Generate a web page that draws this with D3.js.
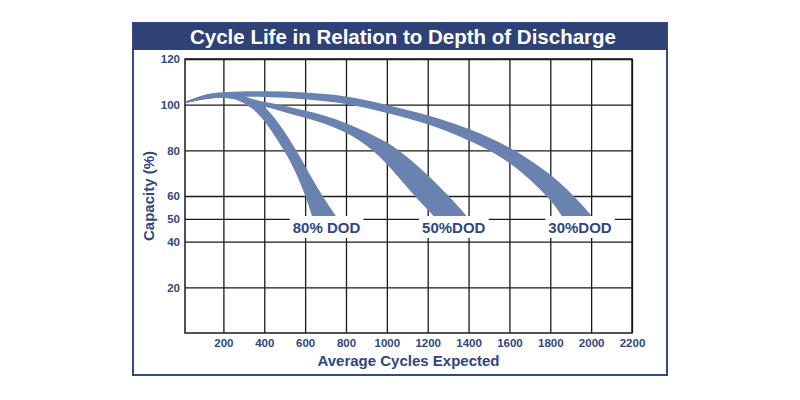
<!DOCTYPE html>
<html>
<head>
<meta charset="utf-8">
<script src="https://cdn.jsdelivr.net/npm/d3@7"></script>
<style>
  html, body { margin: 0; padding: 0; background: #ffffff; }
  svg { display: block; }
  text { font-family: Arial, "Liberation Sans", Helvetica, sans-serif; font-weight: bold; }
</style>
</head>
<body>
<svg id="chart" width="800" height="400"></svg>
<script>
// ---------------- data ----------------
const chartTitle = "Cycle Life in Relation to Depth of Discharge";
const xAxisTitle = "Average Cycles Expected";
const yAxisTitle = "Capacity (%)";
const xTickValues = [200, 400, 600, 800, 1000, 1200, 1400, 1600, 1800, 2000, 2200];
const yTickValues = [20, 40, 50, 60, 80, 100, 120];
const bandLabels = ["80% DOD", "50%DOD", "30%DOD"];

// each band: outer (upper/right) edge and inner (lower/left) edge, [cycles, capacity %]
const dod80Upper = [[12,101.2],[110,104.7],[198,105.5],[281,104.7],[355,102.0],[404,99.4],[482,90.7],[560,79.7],[624,69.2],[687,59.6],[751,51.2],[768,48.9]];
const dod80Lower = [[12,100.7],[110,102.5],[198,103.4],[281,102.0],[340,98.5],[399,93.7],[497,80.1],[555,70.5],[604,59.6],[634,51.2],[641,49.1]];
const dod50Upper = [[12,101.2],[110,104.5],[198,105.3],[281,103.8],[399,101.2],[599,97.7],[800,92.5],[1001,83.7],[1064,79.7],[1187,70.5],[1309,59.6],[1392,51.2],[1407,49.0]];
const dod50Lower = [[12,100.7],[110,102.5],[198,103.4],[281,102.2],[399,99.2],[599,94.4],[800,88.7],[942,79.7],[1040,70.1],[1138,59.6],[1231,51.2],[1248,49.0]];
const dod30Upper = [[12,101.2],[110,104.7],[198,105.7],[399,106.0],[599,105.5],[800,104.0],[1001,99.9],[1199,95.6],[1397,89.8],[1598,81.9],[1799,70.1],[1931,58.7],[2004,51.2],[2019,49.0]];
const dod30Lower = [[12,100.7],[110,102.7],[198,103.4],[399,103.6],[599,102.5],[800,100.7],[1001,96.4],[1199,91.8],[1397,84.7],[1598,75.9],[1799,59.1],[1857,51.2],[1872,49.0]];

const bands = [
  { label: bandLabels[0], upper: dod80Upper, lower: dod80Lower },
  { label: bandLabels[1], upper: dod50Upper, lower: dod50Lower },
  { label: bandLabels[2], upper: dod30Upper, lower: dod30Lower }
];

// ---------------- styles ----------------
const NAVY = "#2e4277";
const TEXT_NAVY = "#30467f";
const BAND = "#6a82af";
const GRID = "#1a1a1a";

const svg = d3.select("#chart");
svg.append("rect").attr("width", 800).attr("height", 400).attr("fill", "#fff");

// frame + title bar
svg.append("rect").attr("x", 133).attr("y", 23).attr("width", 534).attr("height", 352)
  .attr("fill", "none").attr("stroke", "#34488a").attr("stroke-width", 2);
svg.append("rect").attr("x", 133).attr("y", 23).attr("width", 534).attr("height", 27)
  .attr("fill", NAVY);
svg.append("text").attr("x", 403).attr("y", 44).attr("text-anchor", "middle")
  .attr("fill", "#fff").attr("font-size", 20.5).text(chartTitle);

// ---------------- scales ----------------
const x = d3.scaleLinear().domain([12, 2200]).range([185, 632]);
const y = d3.scaleLinear().domain([0, 120]).range([333, 59]);
const plotW = x.range()[1] - x.range()[0];
const plotH = y.range()[0] - y.range()[1];

// ---------------- axes / grid ----------------
const gx = svg.append("g").attr("transform", `translate(0,${y.range()[0]})`)
  .call(d3.axisBottom(x).tickValues(xTickValues).tickSize(-plotH).tickPadding(6).tickFormat(d3.format("d")));
const gy = svg.append("g").attr("transform", `translate(${x.range()[0]},0)`)
  .call(d3.axisLeft(y).tickValues(yTickValues).tickSize(-plotW).tickPadding(5).tickFormat(d3.format("d")));
[gx, gy].forEach(g => {
  g.select(".domain").remove();
  g.selectAll(".tick line").attr("stroke", GRID).attr("stroke-width", 1.3);
  g.selectAll(".tick text").attr("fill", TEXT_NAVY).attr("font-size", 11.5)
    .attr("font-family", "Arial, 'Liberation Sans', sans-serif").attr("font-weight", "bold");
});

// plot border
svg.append("rect").attr("x", x.range()[0]).attr("y", y.range()[1])
  .attr("width", plotW).attr("height", plotH)
  .attr("fill", "none").attr("stroke", GRID).attr("stroke-width", 1.5);

// ---------------- bands ----------------
const edge = d3.line().x(d => x(d[0])).y(d => y(d[1])).curve(d3.curveBasis);
const bandG = svg.append("g");
bands.forEach(b => {
  const up = edge(b.upper);
  const low = edge(b.lower.slice().reverse());
  bandG.append("path").attr("d", up + "L" + low.slice(1) + "Z").attr("fill", BAND);
});

// ---------------- band labels ----------------
bands.forEach(b => {
  const endU = b.upper[b.upper.length - 1][0];
  const endL = b.lower[b.lower.length - 1][0];
  const cx = (x(endU) + x(endL)) / 2;
  const t = svg.append("text").attr("x", cx).attr("y", 233).attr("text-anchor", "middle")
    .attr("fill", TEXT_NAVY).attr("font-size", 15).text(b.label);
  const bb = t.node().getBBox();
  svg.insert("rect", () => t.node())
    .attr("x", bb.x - 3).attr("y", 216).attr("width", bb.width + 6).attr("height", 22)
    .attr("fill", "#fff");
});

// ---------------- axis titles ----------------
svg.append("text").attr("x", (x.range()[0] + x.range()[1]) / 2).attr("y", 366)
  .attr("text-anchor", "middle").attr("fill", TEXT_NAVY).attr("font-size", 15).text(xAxisTitle);
svg.append("text").attr("transform", `translate(154,${(y.range()[0] + y.range()[1]) / 2}) rotate(-90)`)
  .attr("text-anchor", "middle").attr("fill", TEXT_NAVY).attr("font-size", 15).text(yAxisTitle);
</script>
</body>
</html>
